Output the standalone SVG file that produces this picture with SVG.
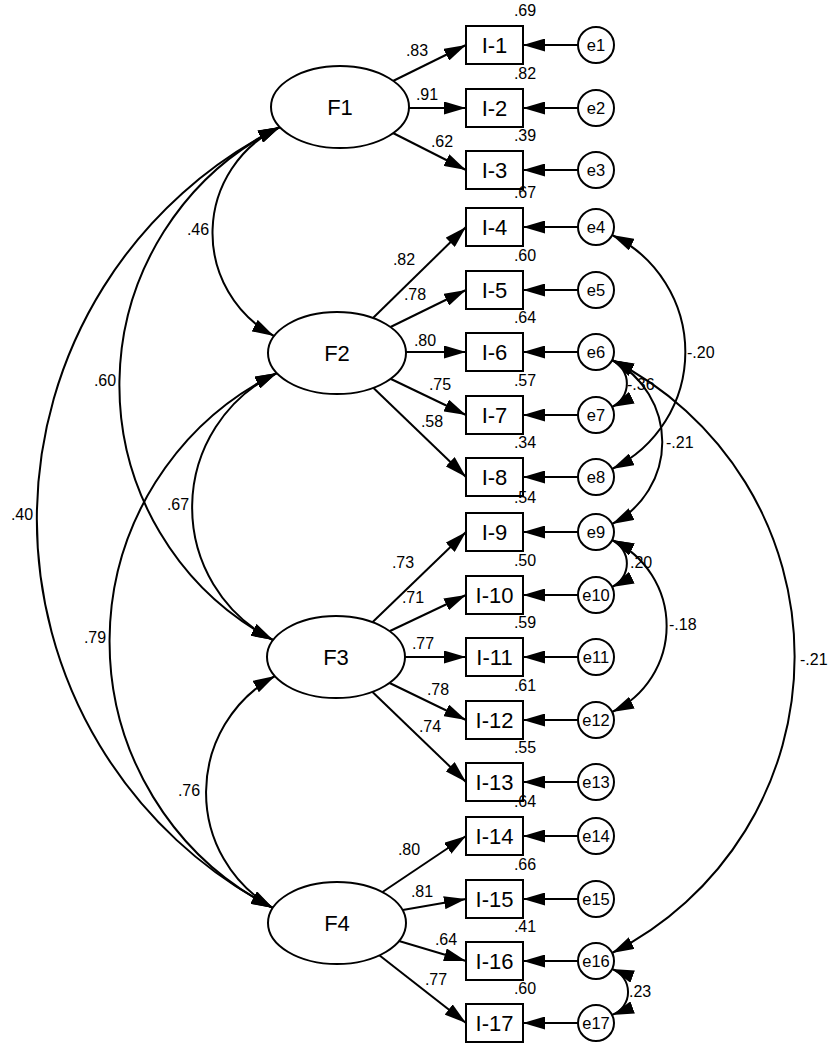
<svg xmlns="http://www.w3.org/2000/svg" width="829" height="1052" viewBox="0 0 829 1052">
<style>
.nd{fill:#fff;stroke:#000;stroke-width:2}
.ln{fill:none;stroke:#000;stroke-width:2}
.lbl{font-family:"Liberation Sans",Arial,sans-serif;font-size:22px;text-anchor:middle;fill:#000}
.el{font-family:"Liberation Sans",Arial,sans-serif;font-size:16.5px;text-anchor:middle;fill:#000}
.num{font-family:"Liberation Sans",Arial,sans-serif;font-size:16px;text-anchor:middle;fill:#000}
.numl{font-family:"Liberation Sans",Arial,sans-serif;font-size:16px;fill:#000}
</style>
<defs>
<marker id="ah" viewBox="0 0 22 13" refX="22" refY="6.5" markerWidth="22" markerHeight="13" markerUnits="userSpaceOnUse" orient="auto-start-reverse">
<path d="M0,0 L22,6.5 L0,13 z" fill="#000"/>
</marker>
</defs>
<rect width="829" height="1052" fill="#fff"/>
<g id="connectors">
<g class="loadings" marker-end="url(#ah)">
<line class="ln" x1="393" y1="81" x2="466" y2="45"/>
<line class="ln" x1="409" y1="108" x2="466" y2="108"/>
<line class="ln" x1="393" y1="133" x2="466" y2="170"/>
<line class="ln" x1="373" y1="318" x2="466" y2="227"/>
<line class="ln" x1="390.5" y1="327" x2="466" y2="290"/>
<line class="ln" x1="406" y1="352" x2="466" y2="352"/>
<line class="ln" x1="391" y1="379" x2="466" y2="415"/>
<line class="ln" x1="373.5" y1="388" x2="466" y2="477"/>
<line class="ln" x1="372.7" y1="622" x2="466" y2="532"/>
<line class="ln" x1="390" y1="631" x2="466" y2="595"/>
<line class="ln" x1="405" y1="657" x2="466" y2="657"/>
<line class="ln" x1="389.6" y1="683" x2="466" y2="720"/>
<line class="ln" x1="372.5" y1="692" x2="466" y2="782"/>
<line class="ln" x1="382.5" y1="892" x2="466" y2="836"/>
<line class="ln" x1="402.7" y1="910" x2="466" y2="899"/>
<line class="ln" x1="399" y1="941" x2="466" y2="961"/>
<line class="ln" x1="379" y1="955" x2="466" y2="1023"/>
</g>
<g class="errors" marker-end="url(#ah)">
<line class="ln" x1="578" y1="45" x2="523" y2="45"/>
<line class="ln" x1="578" y1="108" x2="523" y2="108"/>
<line class="ln" x1="578" y1="170" x2="523" y2="170"/>
<line class="ln" x1="578" y1="227" x2="523" y2="227"/>
<line class="ln" x1="578" y1="290" x2="523" y2="290"/>
<line class="ln" x1="578" y1="352" x2="523" y2="352"/>
<line class="ln" x1="578" y1="415" x2="523" y2="415"/>
<line class="ln" x1="578" y1="477" x2="523" y2="477"/>
<line class="ln" x1="578" y1="532" x2="523" y2="532"/>
<line class="ln" x1="578" y1="595" x2="523" y2="595"/>
<line class="ln" x1="578" y1="657" x2="523" y2="657"/>
<line class="ln" x1="578" y1="720" x2="523" y2="720"/>
<line class="ln" x1="578" y1="782" x2="523" y2="782"/>
<line class="ln" x1="578" y1="836" x2="523" y2="836"/>
<line class="ln" x1="578" y1="899" x2="523" y2="899"/>
<line class="ln" x1="578" y1="961" x2="523" y2="961"/>
<line class="ln" x1="578" y1="1023" x2="523" y2="1023"/>
</g>
<g class="covariances" marker-start="url(#ah)" marker-end="url(#ah)">
<path class="ln" d="M280,127 A117,117 0 0 0 274,336"/>
<path class="ln" d="M280,127 A288,288 0 0 0 273,640"/>
<path class="ln" d="M280,127 A438,438 0 0 0 273,908"/>
<path class="ln" d="M277,373 A149,149 0 0 0 273,640"/>
<path class="ln" d="M277,373 A299,299 0 0 0 273,908"/>
<path class="ln" d="M275,676 A133,133 0 0 0 273,908"/>
<path class="ln" d="M612,235 A130,130 0 0 1 612,469"/>
<path class="ln" d="M612,360 A26,26 0 0 1 612,407"/>
<path class="ln" d="M612,360 A92,92 0 0 1 612,524"/>
<path class="ln" d="M612,540 A26,26 0 0 1 612,587"/>
<path class="ln" d="M612,540 A95,95 0 0 1 612,712"/>
<path class="ln" d="M612,360 A332,332 0 0 1 612,953"/>
<path class="ln" d="M612,969 A24.5,24.5 0 0 1 612,1015"/>
</g>
<g class="coeffs">
<text class="num" x="417" y="56">.83</text>
<text class="num" x="427" y="100">.91</text>
<text class="num" x="442" y="147">.62</text>
<text class="num" x="404" y="265">.82</text>
<text class="num" x="415" y="300">.78</text>
<text class="num" x="425" y="346">.80</text>
<text class="num" x="440" y="390">.75</text>
<text class="num" x="432" y="427">.58</text>
<text class="num" x="403" y="568">.73</text>
<text class="num" x="413" y="603">.71</text>
<text class="num" x="423" y="649">.77</text>
<text class="num" x="438" y="695">.78</text>
<text class="num" x="430" y="732">.74</text>
<text class="num" x="409" y="855">.80</text>
<text class="num" x="422" y="897">.81</text>
<text class="num" x="446" y="945">.64</text>
<text class="num" x="436" y="985">.77</text>
<text class="num" x="198" y="235">.46</text>
<text class="num" x="105" y="386">.60</text>
<text class="num" x="22" y="520">.40</text>
<text class="num" x="178" y="510">.67</text>
<text class="num" x="95" y="643">.79</text>
<text class="num" x="189" y="796">.76</text>
<text class="numl" x="687" y="358">-.20</text>
<text class="numl" x="627" y="390">-.36</text>
<text class="numl" x="666" y="448">-.21</text>
<text class="numl" x="630" y="568">.20</text>
<text class="numl" x="669" y="630">-.18</text>
<text class="numl" x="800" y="665">-.21</text>
<text class="numl" x="629" y="997">.23</text>
</g>
</g>
<g id="F1"><ellipse class="nd" cx="340" cy="107" rx="69" ry="41"/><text class="lbl" x="340" y="115">F1</text></g>
<g id="F2"><ellipse class="nd" cx="337" cy="353" rx="69" ry="41"/><text class="lbl" x="337" y="361">F2</text></g>
<g id="F3"><ellipse class="nd" cx="336" cy="657" rx="69" ry="41"/><text class="lbl" x="336" y="665">F3</text></g>
<g id="F4"><ellipse class="nd" cx="337" cy="923" rx="69" ry="41"/><text class="lbl" x="337" y="931">F4</text></g>
<g id="I-1"><rect class="nd" x="466" y="26" width="57" height="38"/><text class="lbl" x="494.5" y="53">I-1</text><text class="num" x="525" y="16">.69</text></g>
<g id="I-2"><rect class="nd" x="466" y="89" width="57" height="38"/><text class="lbl" x="494.5" y="116">I-2</text><text class="num" x="525" y="79">.82</text></g>
<g id="I-3"><rect class="nd" x="466" y="151" width="57" height="38"/><text class="lbl" x="494.5" y="178">I-3</text><text class="num" x="525" y="141">.39</text></g>
<g id="I-4"><rect class="nd" x="466" y="208" width="57" height="38"/><text class="lbl" x="494.5" y="235">I-4</text><text class="num" x="525" y="198">.67</text></g>
<g id="I-5"><rect class="nd" x="466" y="271" width="57" height="38"/><text class="lbl" x="494.5" y="298">I-5</text><text class="num" x="525" y="261">.60</text></g>
<g id="I-6"><rect class="nd" x="466" y="333" width="57" height="38"/><text class="lbl" x="494.5" y="360">I-6</text><text class="num" x="525" y="323">.64</text></g>
<g id="I-7"><rect class="nd" x="466" y="396" width="57" height="38"/><text class="lbl" x="494.5" y="423">I-7</text><text class="num" x="525" y="386">.57</text></g>
<g id="I-8"><rect class="nd" x="466" y="458" width="57" height="38"/><text class="lbl" x="494.5" y="485">I-8</text><text class="num" x="525" y="448">.34</text></g>
<g id="I-9"><rect class="nd" x="466" y="513" width="57" height="38"/><text class="lbl" x="494.5" y="540">I-9</text><text class="num" x="525" y="503">.54</text></g>
<g id="I-10"><rect class="nd" x="466" y="576" width="57" height="38"/><text class="lbl" x="494.5" y="603">I-10</text><text class="num" x="525" y="566">.50</text></g>
<g id="I-11"><rect class="nd" x="466" y="638" width="57" height="38"/><text class="lbl" x="494.5" y="665">I-11</text><text class="num" x="525" y="628">.59</text></g>
<g id="I-12"><rect class="nd" x="466" y="701" width="57" height="38"/><text class="lbl" x="494.5" y="728">I-12</text><text class="num" x="525" y="691">.61</text></g>
<g id="I-13"><rect class="nd" x="466" y="763" width="57" height="38"/><text class="lbl" x="494.5" y="790">I-13</text><text class="num" x="525" y="753">.55</text></g>
<g id="I-14"><rect class="nd" x="466" y="817" width="57" height="38"/><text class="lbl" x="494.5" y="844">I-14</text><text class="num" x="525" y="807">.64</text></g>
<g id="I-15"><rect class="nd" x="466" y="880" width="57" height="38"/><text class="lbl" x="494.5" y="907">I-15</text><text class="num" x="525" y="870">.66</text></g>
<g id="I-16"><rect class="nd" x="466" y="942" width="57" height="38"/><text class="lbl" x="494.5" y="969">I-16</text><text class="num" x="525" y="932">.41</text></g>
<g id="I-17"><rect class="nd" x="466" y="1004" width="57" height="38"/><text class="lbl" x="494.5" y="1031">I-17</text><text class="num" x="525" y="994">.60</text></g>
<g id="e1"><circle class="nd" cx="596" cy="45" r="18"/><text class="el" x="596" y="51">e1</text></g>
<g id="e2"><circle class="nd" cx="596" cy="108" r="18"/><text class="el" x="596" y="114">e2</text></g>
<g id="e3"><circle class="nd" cx="596" cy="170" r="18"/><text class="el" x="596" y="176">e3</text></g>
<g id="e4"><circle class="nd" cx="596" cy="227" r="18"/><text class="el" x="596" y="233">e4</text></g>
<g id="e5"><circle class="nd" cx="596" cy="290" r="18"/><text class="el" x="596" y="296">e5</text></g>
<g id="e6"><circle class="nd" cx="596" cy="352" r="18"/><text class="el" x="596" y="358">e6</text></g>
<g id="e7"><circle class="nd" cx="596" cy="415" r="18"/><text class="el" x="596" y="421">e7</text></g>
<g id="e8"><circle class="nd" cx="596" cy="477" r="18"/><text class="el" x="596" y="483">e8</text></g>
<g id="e9"><circle class="nd" cx="596" cy="532" r="18"/><text class="el" x="596" y="538">e9</text></g>
<g id="e10"><circle class="nd" cx="596" cy="595" r="18"/><text class="el" x="596" y="601">e10</text></g>
<g id="e11"><circle class="nd" cx="596" cy="657" r="18"/><text class="el" x="596" y="663">e11</text></g>
<g id="e12"><circle class="nd" cx="596" cy="720" r="18"/><text class="el" x="596" y="726">e12</text></g>
<g id="e13"><circle class="nd" cx="596" cy="782" r="18"/><text class="el" x="596" y="788">e13</text></g>
<g id="e14"><circle class="nd" cx="596" cy="836" r="18"/><text class="el" x="596" y="842">e14</text></g>
<g id="e15"><circle class="nd" cx="596" cy="899" r="18"/><text class="el" x="596" y="905">e15</text></g>
<g id="e16"><circle class="nd" cx="596" cy="961" r="18"/><text class="el" x="596" y="967">e16</text></g>
<g id="e17"><circle class="nd" cx="596" cy="1023" r="18"/><text class="el" x="596" y="1029">e17</text></g>
</svg>
